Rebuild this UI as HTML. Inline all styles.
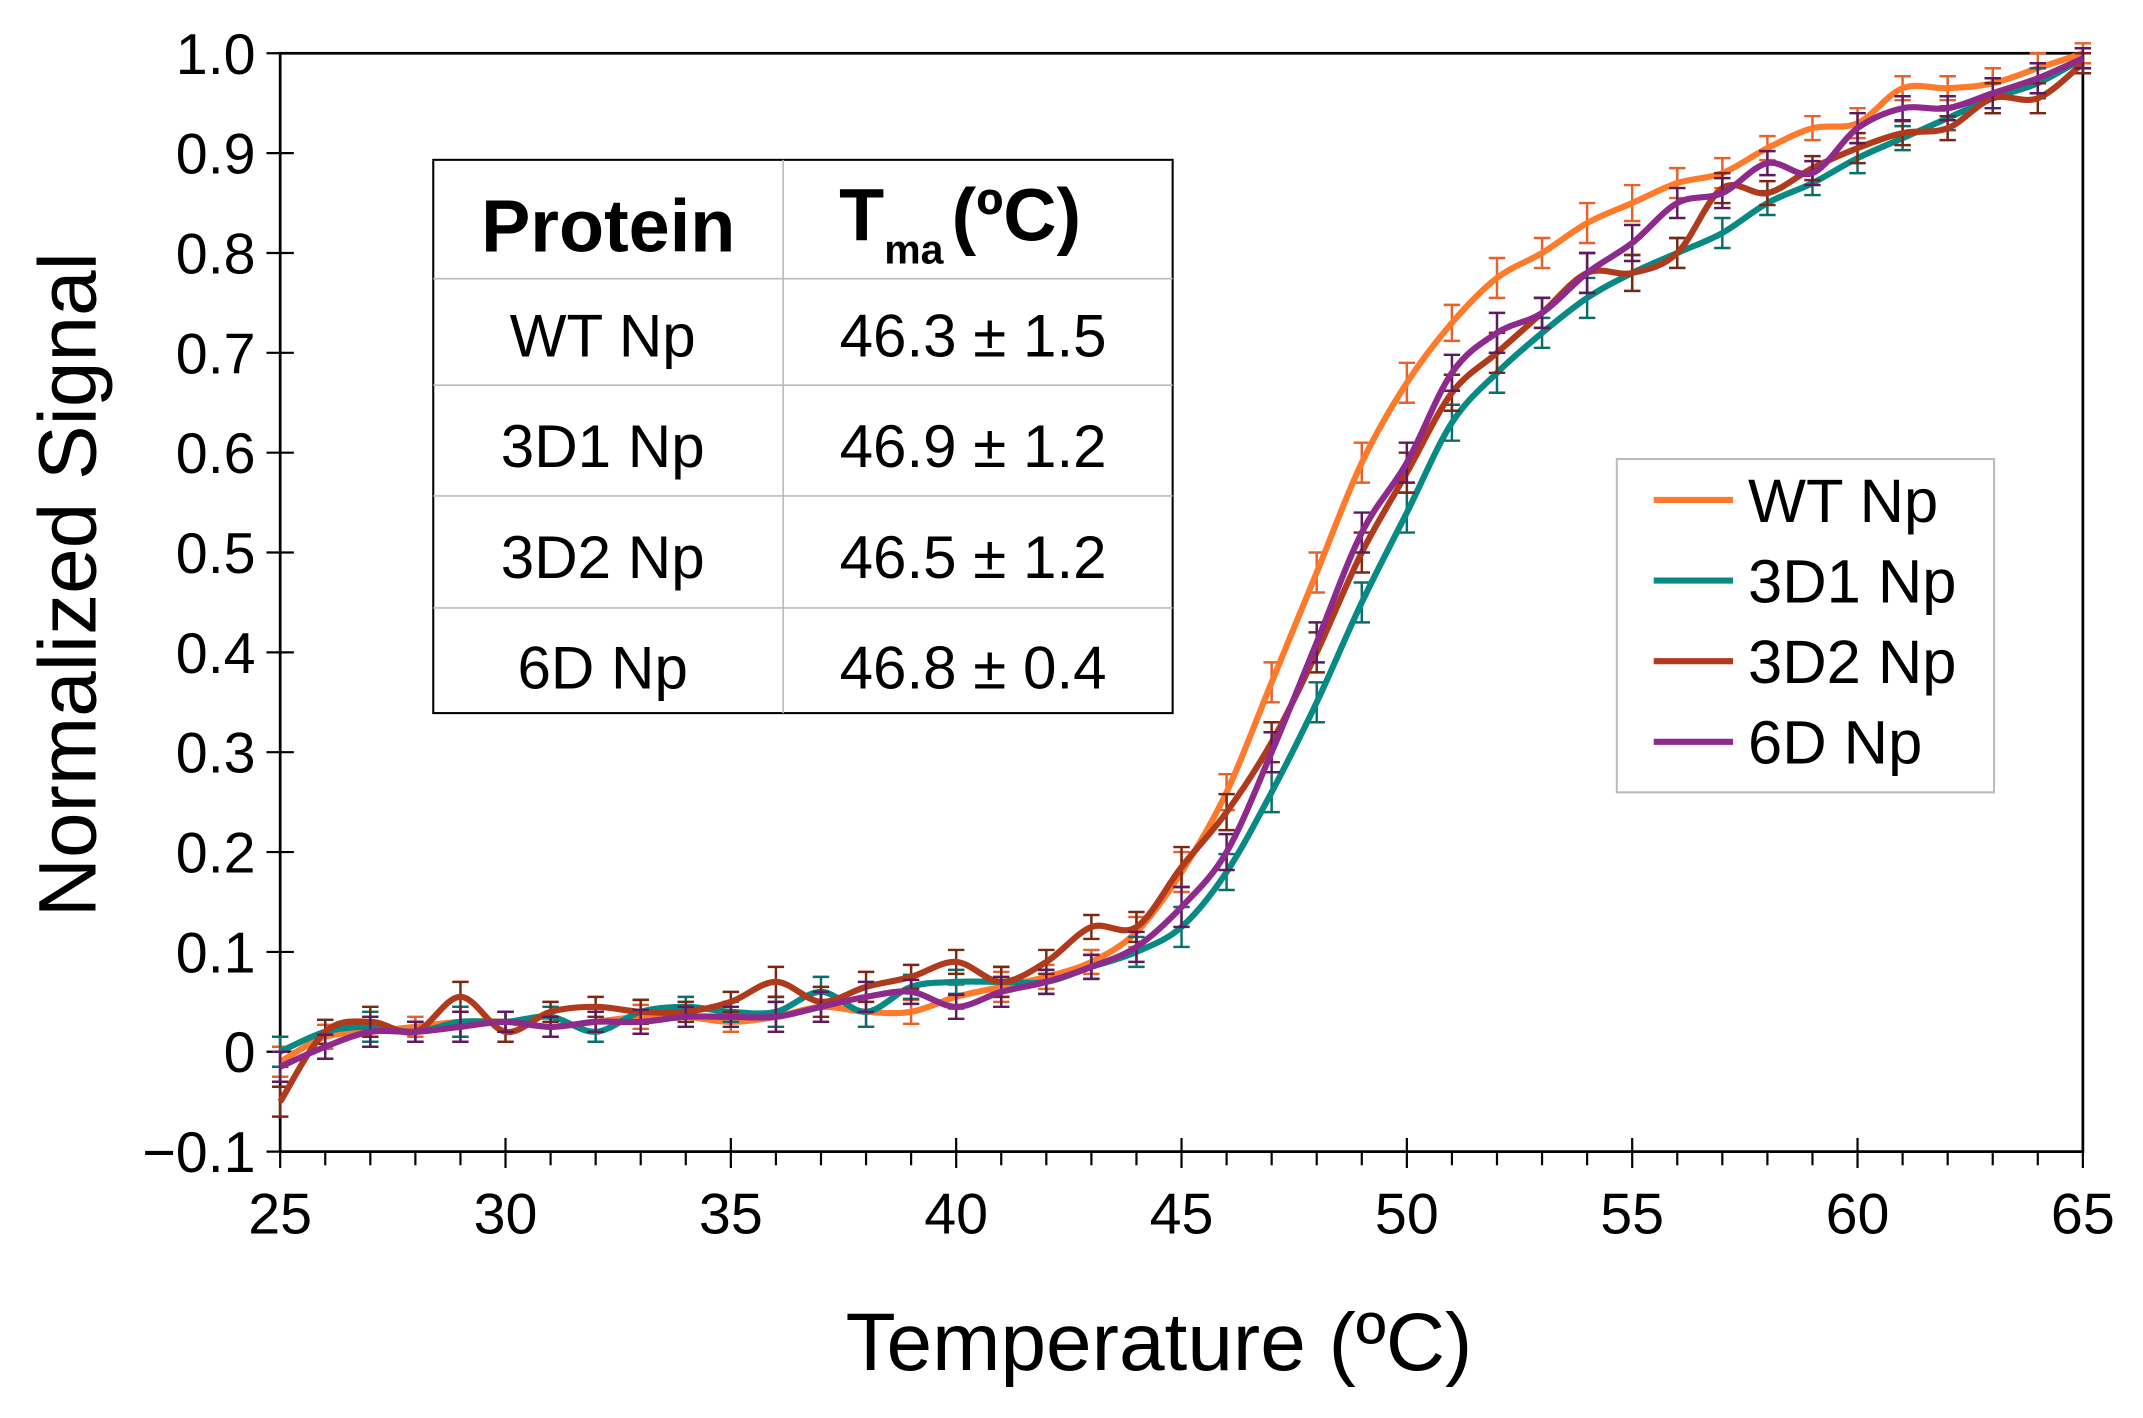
<!DOCTYPE html>
<html><head><meta charset="utf-8"><style>
html,body{margin:0;padding:0;background:#fff}
svg{display:block}
text{font-family:"Liberation Sans",sans-serif}
</style></head><body>
<svg id="chart" width="2143" height="1418" viewBox="0 0 1568 1038" preserveAspectRatio="none" xmlns="http://www.w3.org/2000/svg">
<g id="axes"></g>
<g id="series"></g>
<g>
<rect x="317" y="117" width="541" height="405" fill="#fff" stroke="#000" stroke-width="1.5"/>
<line x1="573" y1="117" x2="573" y2="522" stroke="#bbb" stroke-width="1.2"/>
<line x1="317" y1="204" x2="858" y2="204" stroke="#bbb" stroke-width="1.2"/>
<line x1="317" y1="282" x2="858" y2="282" stroke="#bbb" stroke-width="1.2"/>
<line x1="317" y1="363" x2="858" y2="363" stroke="#bbb" stroke-width="1.2"/>
<line x1="317" y1="445" x2="858" y2="445" stroke="#bbb" stroke-width="1.2"/>
<text x="445" y="184" font-size="54" font-weight="bold" text-anchor="middle">Protein</text>
<text x="614" y="176" font-size="54" font-weight="bold">T<tspan font-size="30" dy="17">ma</tspan><tspan dy="-17" dx="6">(ºC)</tspan></text>
<text x="441" y="261" font-size="44" text-anchor="middle">WT Np</text>
<text x="712" y="261" font-size="44" text-anchor="middle">46.3 ± 1.5</text>
<text x="441" y="342" font-size="44" text-anchor="middle">3D1 Np</text>
<text x="712" y="342" font-size="44" text-anchor="middle">46.9 ± 1.2</text>
<text x="441" y="423" font-size="44" text-anchor="middle">3D2 Np</text>
<text x="712" y="423" font-size="44" text-anchor="middle">46.5 ± 1.2</text>
<text x="441" y="504" font-size="44" text-anchor="middle">6D Np</text>
<text x="712" y="504" font-size="44" text-anchor="middle">46.8 ± 0.4</text>
</g>
<g id="legend">
<rect x="1183" y="336" width="276" height="244" fill="#fff" stroke="#bbb" stroke-width="1.5"/>
</g>
<text x="848" y="1003" font-size="60" text-anchor="middle">Temperature (ºC)</text>
<text transform="translate(70,428) rotate(-90)" font-size="60" text-anchor="middle">Normalized Signal</text>
</svg>
<script>
const temps=[25,26,27,28,29,30,31,32,33,34,35,36,37,38,39,40,41,42,43,44,45,46,47,48,49,50,51,52,53,54,55,56,57,58,59,60,61,62,63,64,65];
const seriesNames=["WT Np","3D1 Np","3D2 Np","6D Np"];
const wtValues=[-0.01,0.015,0.02,0.025,0.03,0.03,0.025,0.03,0.035,0.035,0.03,0.035,0.045,0.04,0.04,0.055,0.065,0.075,0.09,0.12,0.18,0.26,0.37,0.48,0.59,0.67,0.73,0.775,0.8,0.83,0.85,0.87,0.88,0.905,0.925,0.93,0.965,0.965,0.97,0.985,1.0];
const d31Values=[0.0,0.02,0.025,0.02,0.03,0.03,0.035,0.02,0.04,0.045,0.04,0.04,0.06,0.04,0.065,0.07,0.07,0.07,0.085,0.1,0.125,0.18,0.26,0.35,0.45,0.54,0.63,0.68,0.72,0.755,0.78,0.8,0.82,0.85,0.87,0.895,0.915,0.935,0.955,0.97,0.995];
const d32Values=[-0.05,0.02,0.03,0.02,0.055,0.02,0.04,0.045,0.04,0.04,0.05,0.07,0.05,0.065,0.075,0.09,0.07,0.09,0.125,0.125,0.185,0.24,0.31,0.4,0.5,0.58,0.66,0.7,0.74,0.78,0.78,0.8,0.865,0.86,0.885,0.905,0.92,0.925,0.955,0.955,0.99];
const d6Values=[-0.015,0.005,0.02,0.02,0.025,0.03,0.025,0.03,0.03,0.035,0.035,0.035,0.045,0.055,0.06,0.045,0.06,0.07,0.085,0.105,0.145,0.2,0.3,0.41,0.52,0.59,0.68,0.72,0.74,0.78,0.81,0.85,0.86,0.89,0.88,0.925,0.945,0.945,0.96,0.975,0.995];
const errValues=[0.015,0.012,0.015,0.01,0.015,0.01,0.01,0.01,0.012,0.01,0.01,0.015,0.015,0.015,0.012,0.012,0.015,0.012,0.012,0.015,0.02,0.018,0.02,0.02,0.02,0.02,0.018,0.02,0.015,0.02,0.018,0.015,0.015,0.012,0.012,0.015,0.012,0.012,0.015,0.015,0.01];
const xTicks=[25,30,35,40,45,50,55,60,65];
const yTicks=[-0.1,0,0.1,0.2,0.3,0.4,0.5,0.6,0.7,0.8,0.9,1.0];
const yTickLabels=["\u22120.1","0","0.1","0.2","0.3","0.4","0.5","0.6","0.7","0.8","0.9","1.0"];

const NS="http://www.w3.org/2000/svg";
const X0=205,X1=1524,Y0=843,Y1=39;
const xs=t=>X0+(t-25)/40*(X1-X0);
const ys=v=>Y0-(v+0.1)/1.1*(Y0-Y1);
function mk(tag,attrs,parent){const e=document.createElementNS(NS,tag);for(const k in attrs)e.setAttribute(k,attrs[k]);parent.appendChild(e);return e;}
const axes=document.getElementById('axes');
mk('rect',{x:X0,y:Y1,width:X1-X0,height:Y0-Y1,fill:'none',stroke:'#000','stroke-width':2},axes);
for(let t=25;t<=65;t++){
  const major=t%5===0;
  const tk=mk('line',{x1:xs(t),x2:xs(t),y1:major?Y0-10:Y0,y2:Y0+(major?12:10),stroke:'#000','stroke-width':1.6},axes);
  
  
}
xTicks.forEach(t=>{
  const l=mk('text',{x:xs(t),y:Y0+60,'font-size':42,'text-anchor':'middle'},axes);l.textContent=t;
  
  
});
yTicks.forEach((v,i)=>{
  const tk=mk('line',{x1:X0-10,x2:X0+10,y1:ys(v),y2:ys(v),stroke:'#000','stroke-width':1.6},axes);
  
  
  const l=mk('text',{x:X0-18,y:ys(v)+15,'font-size':42,'text-anchor':'end'},axes);l.textContent=yTickLabels[i];
  
  
});
const colors=["#ff7a2a","#088a84","#b03a1c","#8e2a8c"];
const errColors=["#e8602a","#0a6e6a","#7a2814","#5e1a5e"];
const allVals=[wtValues,d31Values,d32Values,d6Values];
const sg=document.getElementById('series');
function smooth(pts){let d=`M${pts[0][0]},${pts[0][1]}`;for(let i=0;i<pts.length-1;i++){const p0=pts[Math.max(0,i-1)],p1=pts[i],p2=pts[i+1],p3=pts[Math.min(pts.length-1,i+2)];const c1=[p1[0]+(p2[0]-p0[0])/6,p1[1]+(p2[1]-p0[1])/6],c2=[p2[0]-(p3[0]-p1[0])/6,p2[1]-(p3[1]-p1[1])/6];d+=` C${c1[0]},${c1[1]} ${c2[0]},${c2[1]} ${p2[0]},${p2[1]}`;}return d;}
allVals.forEach((vals,si)=>{
  const g=mk('g',{},sg);
  
  
  vals.forEach((v,i)=>{
    const x=xs(temps[i]),e=errValues[i];
    const p=mk('path',{d:`M${x},${ys(v+e)}V${ys(v-e)}M${x-6},${ys(v+e)}h12M${x-6},${ys(v-e)}h12`,stroke:errColors[si],'stroke-width':1.8,fill:'none'},g);
    
    
  });
  const pts=vals.map((v,i)=>[xs(temps[i]),ys(v)]);
  const line=mk('path',{d:smooth(pts),stroke:colors[si],'stroke-width':4.5,fill:'none','stroke-linejoin':'round'},g);
  
  
});
const lg=document.getElementById('legend');
seriesNames.forEach((n,i)=>{
  const y=366+i*59;
  const ln=mk('line',{x1:1210,x2:1268,y1:y,y2:y,stroke:colors[i],'stroke-width':4.5},lg);
  
  
  const t=mk('text',{x:1279,y:y+16,'font-size':45},lg);t.textContent=n;
  
  
});
</script>
</body></html>
